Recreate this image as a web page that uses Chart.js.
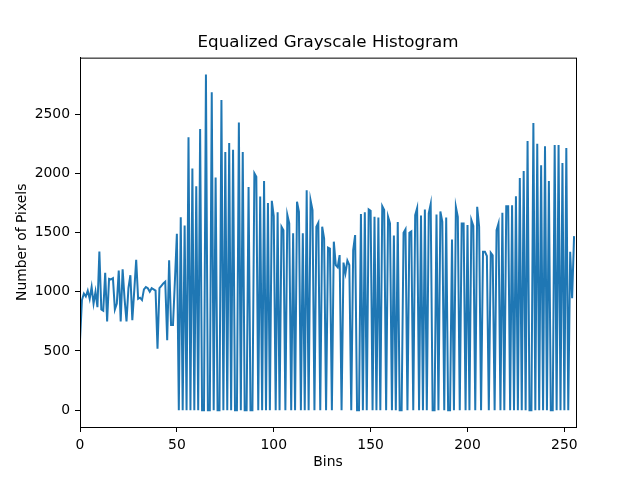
<!DOCTYPE html>
<html>
<head>
<meta charset="utf-8">
<title>Equalized Grayscale Histogram</title>
<script src="https://cdn.jsdelivr.net/npm/chart.js@4.4.1/dist/chart.umd.min.js"></script>
<style>
  html, body { margin: 0; padding: 0; background: #fff; }
  #histCanvas { display: block; }
</style>
</head>
<body>
<canvas id="histCanvas" width="640" height="480"></canvas>
<script>
// pixel counts per bin (4 chunks of 64 bins)
var countsA = [
  590, 930, 985, 960, 1010, 940, 1040, 900, 1000, 870,
  1340, 850, 840, 1160, 750, 1110, 1105, 1115, 850, 900,
  1180, 750, 1190, 940, 750, 1030, 1140, 760, 1010, 1270,
  940, 950, 930, 1020, 1040, 1030, 1000, 1030, 1020, 1010,
  520, 1030, 1050, 1070, 1085, 590, 1265, 720, 720, 1100,
  1490, 0, 1630, 0, 1560, 0, 2305, 0, 2040, 0,
  1890, 0, 2375, 0
];
var countsB = [
  0, 2835, 0, 0, 2685, 0, 1965, 0, 0, 2620,
  0, 2180, 0, 2255, 0, 2200, 0, 0, 2430, 0,
  2180, 0, 0, 1885, 0, 0, 2000, 1970, 0, 1805,
  0, 1935, 0, 1750, 0, 1768, 1640, 0, 1672, 0,
  1549, 1520, 0, 1650, 1577, 0, 1493, 0, 1760, 1675,
  0, 1493, 0, 1858, 0, 1773, 1690, 0, 1549, 1583,
  0, 1549, 1450, 0
];
var countsC = [
  1372, 1364, 0, 1423, 1226, 1207, 1310, 0, 1246, 1156,
  1263, 1226, 0, 1352, 1479, 0, 0, 1656, 0, 1672,
  0, 1695, 1684, 0, 1633, 0, 1628, 0, 1723, 1690,
  0, 1633, 1577, 0, 1476, 0, 1588, 0, 0, 1498,
  1527, 0, 1498, 1510, 0, 1647, 1706, 0, 1644, 0,
  1695, 0, 1661, 1740, 0, 0, 1653, 0, 1678, 1591,
  0, 1628, 0, 0
];
var countsD = [
  1442, 0, 1717, 1633, 0, 1577, 1577, 0, 1563, 0,
  1605, 1555, 0, 1717, 1549, 0, 1338, 1338, 1302, 0,
  1330, 1308, 0, 1521, 1577, 0, 1667, 0, 1723, 1723,
  0, 1731, 0, 1807, 0, 1961, 0, 2020, 0, 2273,
  0, 0, 2424, 0, 2250, 0, 2068, 0, 2228, 0,
  1936, 0, 0, 2239, 0, 2239, 0, 2088, 0, 2214,
  0, 1338, 945, 1470
];
var xTicks = [0, 50, 100, 150, 200, 250];
var yTicks = [0, 500, 1000, 1500, 2000, 2500];

var pixelCounts = countsA.concat(countsB, countsC, countsD);
var points = pixelCounts.map(function (v, i) { return { x: i, y: v }; });

var tickFont = { family: 'DejaVu Sans', size: 13.9 };

// matplotlib draws all four spines, chart.js only the axis ones
var boxPlugin = {
  id: 'box',
  afterDraw: function (chart) {
    var a = chart.chartArea, c = chart.ctx;
    c.save();
    c.strokeStyle = '#000';
    c.lineWidth = 1;
    c.strokeRect(a.left + 0.5, a.top + 0.5, a.right - a.left, a.bottom - a.top);
    c.restore();
  }
};

var ctx = document.getElementById('histCanvas');
new Chart(ctx, {
  type: 'line',
  data: {
    datasets: [{
      data: points,
      borderColor: '#1f77b4',
      borderWidth: 2,
      pointRadius: 0,
      tension: 0,
      fill: false
    }]
  },
  options: {
    responsive: false,
    animation: false,
    devicePixelRatio: 1,
    layout: { padding: { left: 0, right: 64, top: 0, bottom: 0 } },
    plugins: {
      legend: { display: false },
      tooltip: { enabled: false },
      title: {
        display: true,
        fullSize: false,
        text: 'Equalized Grayscale Histogram',
        color: '#000',
        font: { family: 'DejaVu Sans', size: 16.7, weight: 'normal' },
        padding: { top: 33, bottom: 4.6 }
      }
    },
    scales: {
      x: {
        type: 'linear',
        min: 0,
        max: 256,
        afterFit: function (s) { s.height = 53; },
        afterBuildTicks: function (s) { s.ticks = xTicks.map(function (v) { return { value: v }; }); },
        grid: { drawOnChartArea: false, drawTicks: true, tickLength: 5, color: '#000' },
        border: { display: true, color: '#000', width: 1 },
        ticks: { color: '#000', font: tickFont, padding: 5, maxRotation: 0,
                 callback: function (v) { return String(v); } },
        title: { display: true, text: 'Bins', color: '#000', font: tickFont, padding: { top: 0, bottom: 9.7 } }
      },
      y: {
        type: 'linear',
        min: -141.75,
        max: 2976.75,
        afterFit: function (s) { s.width = 80; },
        afterBuildTicks: function (s) { s.ticks = yTicks.map(function (v) { return { value: v }; }); },
        grid: { drawOnChartArea: false, drawTicks: true, tickLength: 5, color: '#000' },
        border: { display: true, color: '#000', width: 1 },
        ticks: { color: '#000', font: tickFont, padding: 5,
                 callback: function (v) { return String(v); } },
        title: { display: true, text: 'Number of Pixels', color: '#000', font: tickFont, padding: { top: 13.7, bottom: 0 } }
      }
    }
  },
  plugins: [boxPlugin]
});
</script>
</body>
</html>
